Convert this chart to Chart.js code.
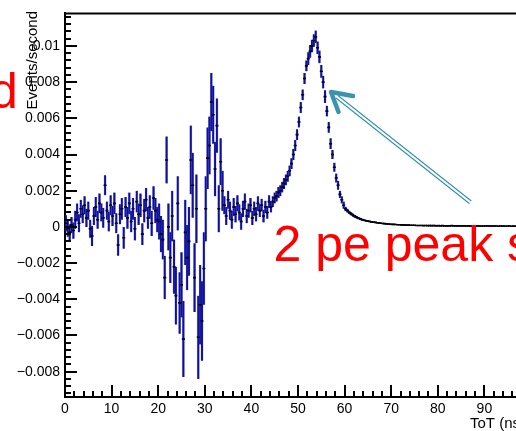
<!DOCTYPE html>
<html>
<head>
<meta charset="utf-8">
<script src="https://cdn.jsdelivr.net/npm/chart.js@4.4.1/dist/chart.umd.min.js"></script>
<style>
  html, body { margin: 0; padding: 0; background: #fff; overflow: hidden; }
  canvas { display: block; }
</style>
</head>
<body>
<canvas id="tot" width="560" height="431"></canvas>
<script>
// ToT spectrum after background subtraction, 0.4 ns bins from 0 to 100 ns
const binStart = 0;
const binWidth = 0.4;

// events/second per bin
const rate0to20 = [0.0002, -0.0001, -0.0003, 0.0001, -0.0002,
  0.0004, 0.0008, 0.0002, 0.0010, 0.0007,
  0.0012, 0.0005, 0.0009, -0.0001, -0.0005,
  0.0006, 0.0011, 0.0004, 0.0013, 0.0008,
  0.0005, 0.0023, 0.0009, 0.0003, 0.0012,
  0.0006, 0.0013, 0.0002, -0.0010, 0.0007,
  0.0010, -0.0006, 0.0011, 0.0005, 0.0013,
  0.0003, 0.0010, -0.0001, 0.0014, 0.0007,
  0.0012, -0.0004, 0.0009, 0.0015, 0.0005,
  0.0011, 0.0002, 0.0016, 0.0009, 0.0004];
const rate20to34 = [0.0003, -0.0004, -0.0007, -0.0028, 0.0037,
  0.0000, -0.0017, 0.0006, -0.0022, -0.0038,
  0.0013, -0.0042, -0.0032, -0.0062, -0.0003,
  -0.0017, -0.0008, 0.0037, 0.0023, -0.0028,
  0.0010, -0.0061, -0.0043, -0.0052, -0.0023,
  0.0010, 0.0038, 0.0045, 0.0069, 0.0062,
  0.0032, 0.0056, 0.0010, 0.0036, 0.0020];
const rate34to44 = [0.0012, 0.0006, 0.0015, 0.0009, 0.0004,
  0.0011, 0.0007, 0.0013, 0.0008, 0.0003,
  0.0010, 0.0014, 0.0006, 0.0009, 0.0012,
  0.0005, 0.0010, 0.0007, 0.0013, 0.0009,
  0.0012, 0.0006, 0.0011, 0.0008, 0.0014];
const rate44to60 = [0.0011, 0.0014, 0.0016, 0.0017, 0.0019,
  0.0020, 0.0022, 0.0024, 0.0026, 0.0028,
  0.0031, 0.0035, 0.0040, 0.0045, 0.0051,
  0.0058, 0.0066, 0.0073, 0.0082, 0.0089,
  0.0093, 0.0097, 0.0100, 0.0103, 0.0105,
  0.0099, 0.0094, 0.0086, 0.0080, 0.0072,
  0.0064, 0.0055, 0.0046, 0.0040, 0.0033,
  0.0027, 0.0023, 0.0018, 0.0015, 0.0012];
const rate60to100 = [0.00100, 0.00090, 0.00080, 0.00072, 0.00065,
  0.00058, 0.00053, 0.00048, 0.00044, 0.00040,
  0.00037, 0.00034, 0.00032, 0.00030, 0.00028,
  0.00026, 0.00025, 0.00023, 0.00022, 0.00020,
  0.00019, 0.00018, 0.00017, 0.00016, 0.00015,
  0.00014, 0.00014, 0.00013, 0.00012, 0.00012,
  0.00011, 0.00011, 0.00010, 0.00010, 0.00010,
  0.00009, 0.00009, 0.00009, 0.00008, 0.00008,
  0.00008, 0.00008, 0.00007, 0.00008, 0.00007,
  0.00007, 0.00007, 0.00007, 0.00007, 0.00006,
  0.00007, 0.00006, 0.00007, 0.00006, 0.00006,
  0.00006, 0.00006, 0.00007, 0.00006, 0.00006,
  0.00006, 0.00006, 0.00005, 0.00006, 0.00006,
  0.00005, 0.00006, 0.00005, 0.00006, 0.00005,
  0.00005, 0.00006, 0.00005, 0.00005, 0.00005,
  0.00005, 0.00006, 0.00005, 0.00005, 0.00005,
  0.00005, 0.00005, 0.00004, 0.00005, 0.00005,
  0.00005, 0.00004, 0.00005, 0.00005, 0.00004,
  0.00005, 0.00004, 0.00005, 0.00004, 0.00004,
  0.00005, 0.00004, 0.00004, 0.00004, 0.00004];

// statistical error per bin
const err0to20 = [0.00045, 0.00045, 0.00045, 0.00045, 0.00045,
  0.0005, 0.0005, 0.0005, 0.0005, 0.0005,
  0.0005, 0.0005, 0.0005, 0.0005, 0.00055,
  0.0005, 0.00055, 0.0005, 0.00055, 0.0005,
  0.00055, 0.00055, 0.0005, 0.00055, 0.00055,
  0.00055, 0.0006, 0.00055, 0.0006, 0.00055,
  0.0006, 0.0006, 0.00055, 0.0006, 0.0006,
  0.0006, 0.0006, 0.00065, 0.0006, 0.0006,
  0.00065, 0.0006, 0.00065, 0.00065, 0.0006,
  0.00065, 0.0007, 0.00065, 0.0007, 0.0007];
const err20to34 = [0.0010, 0.0010, 0.0011, 0.0012, 0.0013,
  0.0013, 0.0014, 0.0014, 0.0015, 0.0016,
  0.0015, 0.0017, 0.0018, 0.0021, 0.0018,
  0.0018, 0.0019, 0.0019, 0.0018, 0.0019,
  0.0019, 0.0023, 0.0022, 0.0022, 0.0020,
  0.0018, 0.0017, 0.0016, 0.0016, 0.0016,
  0.0015, 0.0015, 0.0013, 0.0013, 0.0011];
const err34to44 = [0.0005, 0.0005, 0.0005, 0.0005, 0.0005,
  0.0005, 0.00045, 0.00045, 0.00045, 0.00045,
  0.00045, 0.00045, 0.0004, 0.0004, 0.0004,
  0.0004, 0.0004, 0.0004, 0.0004, 0.00035,
  0.00035, 0.00035, 0.00035, 0.00035, 0.00035];
const err44to60 = [0.0003, 0.0003, 0.0003, 0.0003, 0.0003,
  0.0003, 0.0003, 0.0003, 0.0003, 0.0003,
  0.0003, 0.0003, 0.0003, 0.0003, 0.0003,
  0.0003, 0.0003, 0.0003, 0.0003, 0.0003,
  0.00035, 0.00035, 0.00035, 0.00035, 0.00035,
  0.00035, 0.00035, 0.00035, 0.00035, 0.00035,
  0.0003, 0.0003, 0.0003, 0.00025, 0.00025,
  0.00025, 0.00025, 0.0002, 0.0002, 0.0002];
const err60to100 = [0.00012, 0.00011, 0.0001, 0.00009, 0.00009,
  0.00008, 0.00008, 0.00007, 0.00007, 0.00006,
  0.00006, 0.00006, 0.00005, 0.00005, 0.00005,
  0.00005, 0.00005, 0.00004, 0.00004, 0.00004,
  0.00004, 0.00004, 0.00004, 0.00004, 0.00004,
  0.00003, 0.00003, 0.00003, 0.00003, 0.00003,
  0.00003, 0.00003, 0.00003, 0.00003, 0.00003,
  0.00003, 0.00003, 0.00003, 0.00003, 0.00003,
  0.00003, 0.00003, 0.00003, 0.00003, 0.00003,
  0.00003, 0.00003, 0.00003, 0.00003, 0.00003,
  0.00003, 0.00003, 0.00003, 0.00003, 0.00003,
  0.00003, 0.00003, 0.00003, 0.00003, 0.00003,
  0.00003, 0.00003, 0.00003, 0.00003, 0.00003,
  0.00003, 0.00003, 0.00003, 0.00003, 0.00003,
  0.00003, 0.00003, 0.00003, 0.00003, 0.00003,
  0.00003, 0.00003, 0.00003, 0.00003, 0.00003,
  0.00003, 0.00003, 0.00003, 0.00003, 0.00003,
  0.00003, 0.00003, 0.00003, 0.00003, 0.00003,
  0.00003, 0.00003, 0.00003, 0.00003, 0.00003,
  0.00003, 0.00003, 0.00003, 0.00003, 0.00003];

// axis labels
const xTicks = [0, 10, 20, 30, 40, 50, 60, 70, 80, 90, 100];
const yTicks = [-0.008, -0.006, -0.004, -0.002, 0, 0.002, 0.004, 0.006, 0.008, 0.01];

const rates = [...rate0to20, ...rate20to34, ...rate34to44, ...rate44to60, ...rate60to100];
const errors = [...err0to20, ...err20to34, ...err34to44, ...err44to60, ...err60to100];

const binCenter = (i) => binStart + (i + 0.5) * binWidth;
const points = rates.map((v, i) => ({ x: binCenter(i), y: v }));
const errBars = rates.map((v, i) => ({ x: binCenter(i), y: [v - errors[i], v + errors[i]] }));

function yLabel(v) {
  if (Math.abs(v) < 1e-9) return '0';
  const s = parseFloat(Math.abs(v).toFixed(4)).toString();
  return (v < 0 ? '\u2212' : '') + s;
}

// ROOT style frame: ticks pointing into the plot, top edge, titles and notes
const rootFrame = {
  id: 'rootFrame',
  afterDraw(chart) {
    const { ctx, chartArea: a, scales: { x, y } } = chart;
    ctx.save();
    ctx.strokeStyle = '#000';
    ctx.lineWidth = 2;
    ctx.beginPath();
    ctx.moveTo(a.left - 1, a.top);
    ctx.lineTo(a.right, a.top);
    ctx.stroke();

    ctx.beginPath();
    for (let i = 0; i <= 50; i++) {
      const px = Math.round(x.getPixelForValue(i * 2));
      const len = i % 5 === 0 ? 12 : 6;
      ctx.moveTo(px, a.bottom);
      ctx.lineTo(px, a.bottom - len);
    }
    for (let i = -23; i <= 29; i++) {
      const py = Math.round(y.getPixelForValue(i * 0.0004));
      const len = i % 5 === 0 ? 12 : 6;
      ctx.moveTo(a.left, py);
      ctx.lineTo(a.left + len, py);
    }
    ctx.stroke();

    ctx.fillStyle = '#000';
    ctx.font = '15px "Liberation Sans", Arial, sans-serif';
    ctx.textAlign = 'left';
    ctx.fillText('ToT (ns)', 470, 428);

    ctx.save();
    ctx.translate(37, 11);
    ctx.rotate(-Math.PI / 2);
    ctx.font = '15px "Liberation Sans", Arial, sans-serif';
    ctx.textAlign = 'right';
    ctx.fillText('Events/second', 0, 0);
    ctx.restore();

    // arrow pointing at the peak
    ctx.strokeStyle = '#3a94ad';
    ctx.lineCap = 'round';
    ctx.lineWidth = 1.2;
    const tail = [470, 202], tip = [331, 92];
    const dx = tip[0] - tail[0], dy = tip[1] - tail[1];
    const len = Math.hypot(dx, dy);
    const nx = -dy / len, ny = dx / len;
    const end = [tip[0] - dx / len * 8, tip[1] - dy / len * 8];
    ctx.beginPath();
    for (const o of [-1.6, 1.6]) {
      ctx.moveTo(tail[0] + nx * o, tail[1] + ny * o);
      ctx.lineTo(end[0] + nx * o, end[1] + ny * o);
    }
    ctx.stroke();
    ctx.lineWidth = 4.5;
    ctx.lineJoin = 'round';
    ctx.beginPath();
    ctx.moveTo(353, 96);
    ctx.lineTo(tip[0], tip[1]);
    ctx.lineTo(338.5, 112);
    ctx.stroke();

    ctx.fillStyle = '#ff0000';
    ctx.font = '50px "Liberation Sans", Arial, sans-serif';
    ctx.textAlign = 'left';
    ctx.fillText('d', -10, 108);
    ctx.fillText('2 pe peak s', 273.5, 261);
    ctx.restore();
  }
};

const tickFont = { family: '"Liberation Sans", Arial, sans-serif', size: 14 };

new Chart(document.getElementById('tot'), {
  type: 'scatter',
  data: {
    datasets: [{
      type: 'scatter',
      data: points,
      borderColor: '#000',
      borderWidth: 1.6,
      pointStyle: 'line',
      pointRadius: 1.5,
      order: 0
    }, {
      type: 'bar',
      data: errBars,
      backgroundColor: '#10109c',
      borderColor: 'rgba(90, 100, 200, 0.55)',
      borderWidth: { left: 0.5, right: 0.5, top: 0, bottom: 0 },
      borderSkipped: false,
      barThickness: 2.3,
      order: 1
    }]
  },
  options: {
    responsive: false,
    animation: false,
    devicePixelRatio: 1,
    layout: { padding: { top: 10, right: 29, left: 0, bottom: 0 } },
    plugins: { legend: { display: false }, tooltip: { enabled: false } },
    scales: {
      x: {
        type: 'linear',
        min: 0,
        max: 100,
        offset: false,
        grid: { display: false, drawTicks: false },
        border: { display: true, color: '#000', width: 2 },
        afterBuildTicks: (s) => { s.ticks = xTicks.map(v => ({ value: v })); },
        afterFit: (s) => { s.height = 34; },
        ticks: { color: '#000', font: tickFont, padding: 4, autoSkip: false, maxRotation: 0 }
      },
      y: {
        type: 'linear',
        min: -0.0094,
        max: 0.0118,
        grid: { display: false, drawTicks: false },
        border: { display: true, color: '#000', width: 2 },
        afterBuildTicks: (s) => { s.ticks = yTicks.map(v => ({ value: v })); },
        afterFit: (s) => { s.width = 65; },
        ticks: { color: '#000', font: tickFont, padding: 5, callback: (v) => yLabel(v) }
      }
    }
  },
  plugins: [rootFrame]
});
</script>
</body>
</html>
